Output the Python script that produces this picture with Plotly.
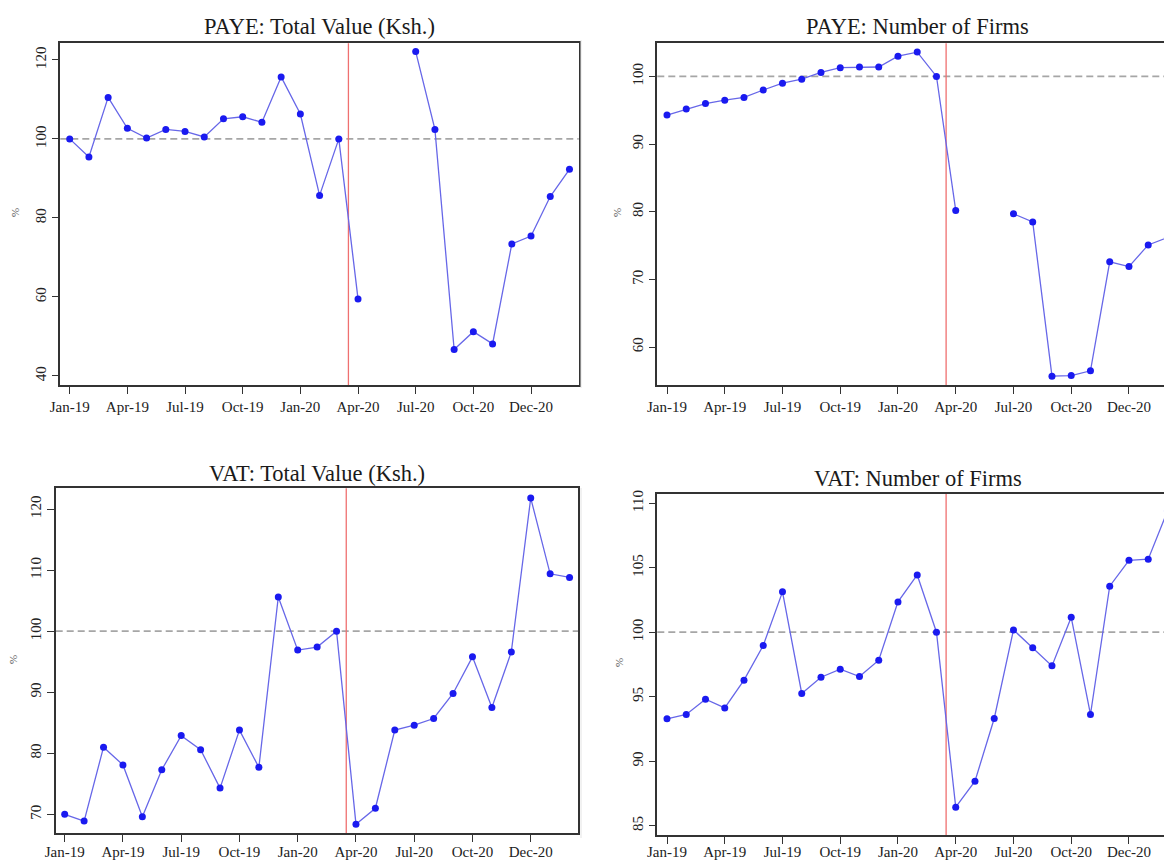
import plotly.graph_objects as go

# ---------------- data ----------------
months = ["Jan-19", "Feb-19", "Mar-19", "Apr-19", "May-19", "Jun-19", "Jul-19", "Aug-19", "Sep-19",
          "Oct-19", "Nov-19", "Dec-19", "Jan-20", "Feb-20", "Mar-20", "Apr-20", "May-20", "Jun-20",
          "Jul-20", "Aug-20", "Sep-20", "Oct-20", "Nov-20", "Dec-20", "Jan-21", "Feb-21", "Mar-21"]
x_idx = list(range(len(months)))

tick_pos = [0, 3, 6, 9, 12, 15, 18, 21, 24]
tick_text = ["Jan-19", "Apr-19", "Jul-19", "Oct-19", "Jan-20", "Apr-20", "Jul-20", "Oct-20", "Dec-20"]

paye_value = [100, 95.4, 110.5, 102.7, 100.2, 102.4, 101.9, 100.5, 105.1, 105.6, 104.2, 115.7, 106.3,
              85.7, 100, 59.5, None, None, 122.1, 102.4, 46.7, 51.2, 48.1, 73.4, 75.4, 85.4, 92.3]
paye_firms = [94.3, 95.2, 96.0, 96.5, 96.9, 98.0, 99.0, 99.6, 100.6, 101.3, 101.4, 101.4, 103.0,
              103.6, 100, 80.2, None, None, 79.7, 78.5, 55.7, 55.8, 56.5, 72.6, 71.9, 75.1, 76.2]
vat_value = [70.0, 68.9, 81.0, 78.1, 69.6, 77.3, 82.9, 80.6, 74.3, 83.8, 77.7, 105.6, 96.9,
             97.4, 100, 68.4, 71.0, 83.8, 84.6, 85.7, 89.8, 95.8, 87.5, 96.6, 121.8, 109.4, 108.8]
vat_firms = [93.28, 93.62, 94.81, 94.13, 96.28, 98.97, 103.13, 95.25, 96.51, 97.13, 96.56, 97.83, 102.35,
             104.44, 100, 86.43, 88.45, 93.31, 100.18, 98.79, 97.39, 101.16, 93.62, 103.57, 105.58, 105.66, 109.4]

titles = ["PAYE: Total Value (Ksh.)", "PAYE: Number of Firms",
          "VAT: Total Value (Ksh.)", "VAT: Number of Firms"]
series = [paye_value, paye_firms, vat_value, vat_firms]
y_ticks = [[40, 60, 80, 100, 120], [60, 70, 80, 90, 100],
           [70, 80, 90, 100, 110, 120], [85, 90, 95, 100, 105, 110]]
ref_level = 100
event_x = 14.5

# ---------------- layout geometry (pixels) ----------------
W, H = 1164, 863
FONT = "Liberation Serif"
panels = [
    dict(xd=(60.3, 578.7), yd=(43.3, 385.0), xr=(-0.489, 26.48), yr=(37.7, 124.2),
         mirror=True, tpos=(319.8, 27), ppos=(15, 213), xstand=0),
    dict(xd=(657.3, 1164.0), yd=(43.3, 385.0), xr=(-0.504, 25.82), yr=(54.4, 104.9),
         mirror=False, tpos=(917, 27), ppos=(617, 213), xstand=0),
    dict(xd=(55.7, 578.3), yd=(488.3, 833.3), xr=(-0.463, 26.45), yr=(66.9, 123.4),
         mirror=True, tpos=(317, 473), ppos=(13, 660), xstand=-3),
    dict(xd=(657.3, 1164.0), yd=(494.0, 835.3), xr=(-0.504, 25.82), yr=(84.25, 110.72),
         mirror=False, tpos=(918, 478), ppos=(619, 663), xstand=-5),
]

fig = go.Figure()
shapes = []
annotations = []
layout_axes = {}

for i, (p, ys, ttl, yt) in enumerate(zip(panels, series, titles, y_ticks)):
    n = "" if i == 0 else str(i + 1)
    xa, ya = "x" + n, "y" + n
    fig.add_trace(go.Scatter(
        x=x_idx, y=ys, xaxis=xa, yaxis=ya, mode="lines+markers",
        line=dict(color="#6767e8", width=1.3),
        marker=dict(color="#1a1af0", size=7),
        connectgaps=False, showlegend=False, hoverinfo="x+y"))

    layout_axes["xaxis" + n] = dict(
        domain=[p["xd"][0] / W, p["xd"][1] / W], range=list(p["xr"]), anchor=ya,
        tickmode="array", tickvals=tick_pos, ticktext=tick_text,
        showgrid=False, zeroline=False, showline=True, mirror=True,
        linecolor="#333333", linewidth=1.5, ticks="outside", ticklen=7, tickwidth=1.2,
        tickcolor="#333333", tickfont=dict(family=FONT, size=15, color="#222222"),
        ticklabelstandoff=p["xstand"], automargin=False, fixedrange=True)
    layout_axes["yaxis" + n] = dict(
        domain=[1 - p["yd"][1] / H, 1 - p["yd"][0] / H], range=list(p["yr"]), anchor=xa,
        tickmode="array", tickvals=yt, tickangle=-90,
        showgrid=False, zeroline=False, showline=True, mirror=p["mirror"],
        linecolor="#333333", linewidth=1.5, ticks="outside", ticklen=7, tickwidth=1.2,
        tickcolor="#333333", tickfont=dict(family=FONT, size=15, color="#222222"),
        automargin=False, fixedrange=True)

    # reference line at 100 (dashed grey)
    shapes.append(dict(type="line", xref=xa + " domain", yref=ya, x0=0, x1=1,
                       y0=ref_level, y1=ref_level,
                       line=dict(color="#a6a6a6", width=1.7, dash="7px,4px"), layer="below"))
    # event line (red)
    shapes.append(dict(type="line", xref=xa, yref=ya + " domain", x0=event_x, x1=event_x,
                       y0=0, y1=1, line=dict(color="#ef7070", width=1.3), layer="below"))

    annotations.append(dict(text=ttl, x=p["tpos"][0] / W, y=1 - p["tpos"][1] / H,
                            xref="paper", yref="paper", xanchor="center", yanchor="middle",
                            showarrow=False, font=dict(family=FONT, size=22.5, color="#1a1a1a")))
    annotations.append(dict(text="%", x=p["ppos"][0] / W, y=1 - p["ppos"][1] / H,
                            xref="paper", yref="paper", xanchor="center", yanchor="middle",
                            textangle=-90, showarrow=False,
                            font=dict(family=FONT, size=11, color="#555555")))

# faint separator at the left of the right-hand panels
for y0, y1 in [(40, 388), (488, 838)]:
    shapes.append(dict(type="line", xref="paper", yref="paper", x0=581 / W, x1=581 / W,
                       y0=1 - y1 / H, y1=1 - y0 / H, line=dict(color="#e4e4e4", width=1)))

fig.update_layout(
    width=W, height=H, margin=dict(l=0, r=0, t=0, b=0),
    paper_bgcolor="white", plot_bgcolor="white",
    font=dict(family=FONT), shapes=shapes, annotations=annotations,
    **layout_axes)

fig.write_html("out.html", include_plotlyjs=True, config={"displayModeBar": False})
